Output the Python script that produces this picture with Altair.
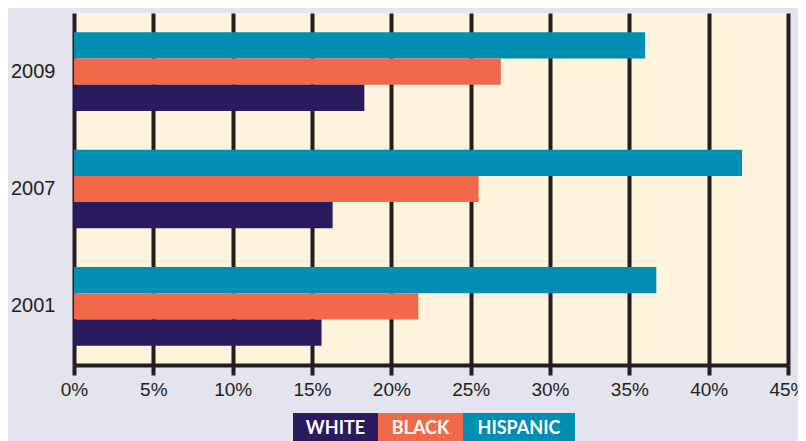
import altair as alt
import pandas as pd

years = ["2009", "2007", "2001"]
series = ["HISPANIC", "BLACK", "WHITE"]
hispanic = [36.0, 42.1, 36.7]
black = [26.9, 25.5, 21.7]
white = [18.3, 16.3, 15.6]
colors = ["#008fb3", "#f2694a", "#2a1a5e"]
x_ticks = [0, 5, 10, 15, 20, 25, 30, 35, 40, 45]

rows = []
for i, y in enumerate(years):
    for s, vals in zip(series, [hispanic, black, white]):
        rows.append({"year": y, "group": s, "value": vals[i]})
df = pd.DataFrame(rows)

W, H = 714, 352
ink = "#231f20"

bars = alt.Chart(df).mark_bar(cornerRadius=0).encode(
    x=alt.X("value:Q",
            scale=alt.Scale(domain=[0, 45], nice=False, zero=True),
            axis=alt.Axis(values=x_ticks, labelExpr="datum.value + '%'", title=None,
                          grid=True, gridColor=ink, gridWidth=4, gridOpacity=1,
                          domainColor=ink, domainWidth=4,
                          tickColor=ink, tickWidth=4, tickSize=10,
                          labelFont="Liberation Sans Narrow, Liberation Sans, sans-serif",
                          labelFontSize=19, labelColor=ink, labelPadding=5,
                          labelFlush=False)),
    y=alt.Y("year:N", sort=years,
            scale=alt.Scale(paddingInner=0.33, paddingOuter=0.165),
            axis=alt.Axis(title=None, domain=False, ticks=False, labelFontSize=20,
                          labelFont="Liberation Sans, sans-serif", labelColor=ink,
                          labelPadding=19)),
    yOffset=alt.YOffset("group:N", sort=series,
                        scale=alt.Scale(domain=series, paddingInner=0, paddingOuter=0)),
    color=alt.Color("group:N", scale=alt.Scale(domain=series, range=colors), legend=None),
)

# custom legend blocks (layout positions relative to plot origin)
legend_order = ["WHITE", "BLACK", "HISPANIC"]
legend_colors = ["#2a1a5e", "#f2694a", "#008fb3"]
legend_x0 = [219, 304, 389]
legend_x1 = [304, 389, 501]
layers = [bars]
for name, c, x0, x1 in zip(legend_order, legend_colors, legend_x0, legend_x1):
    d = pd.DataFrame({"label": [name]})
    layers.append(alt.Chart(d).mark_rect(color=c).encode(
        x=alt.value(x0), x2=alt.value(x1), y=alt.value(400), y2=alt.value(428)))
    layers.append(alt.Chart(d).mark_text(color="white", fontWeight="bold", fontSize=18,
                                         font="Lato, sans-serif", baseline="middle",
                                         align="center").encode(
        x=alt.value((x0 + x1) / 2), y=alt.value(416), text="label:N"))

chart = alt.layer(*layers).properties(
    width=W, height=H,
    autosize=alt.AutoSizeParams(type="none"),
    padding={"left": 66, "top": 5, "right": 10, "bottom": 76},
    background="#e5e3ee",
).configure_view(fill="#fef3dc", stroke=None)

chart.save("out.html", embed_options={"renderer": "svg", "actions": False})
